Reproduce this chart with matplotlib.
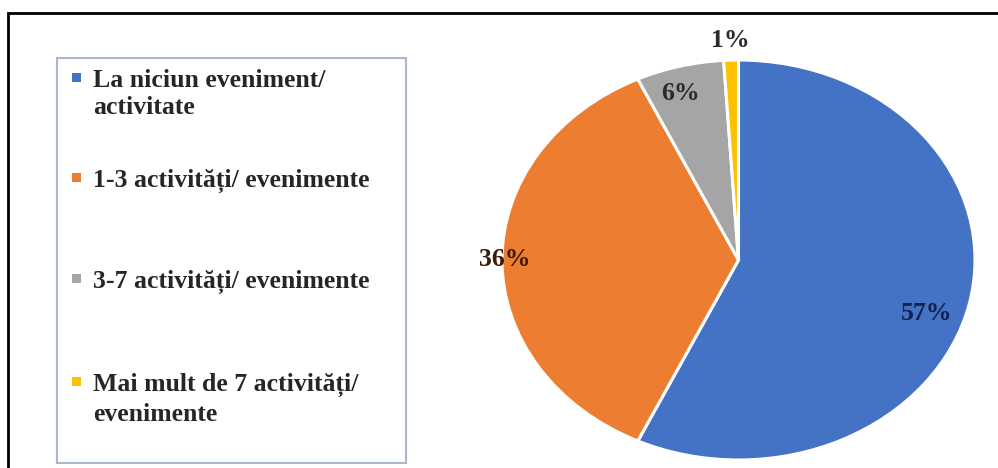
import matplotlib
matplotlib.use("Agg")
import matplotlib.pyplot as plt
from matplotlib.patches import Rectangle
import numpy as np

# ---- data ----
categories = ["La niciun eveniment/\nactivitate",
              "1-3 activități/ evenimente",
              "3-7 activități/ evenimente",
              "Mai mult de 7 activități/\nevenimente"]
values = [57, 36, 6, 1]
pct_labels = ["57%", "36%", "6%", "1%"]

# ---- style ----
colors = ["#4472C4", "#ED7D31", "#A5A5A5", "#FFC000"]
label_colors = ["#14224f", "#3d1c05", "#2b2b2b", "#2b2b2b"]
label_r = [0.84, 0.99, 0.87, 1.10]
label_dtheta = [-6.0, 0.0, 2.0, 0.0]

W, H = 998, 468
fig = plt.figure(figsize=(W / 100, H / 100), dpi=100)
fig.patch.set_facecolor("white")
serif = ["Liberation Serif", "DejaVu Serif"]

def fx(px):
    return px / W

def fy(py):
    return 1 - py / H

# outer frame (extends beyond right/bottom edges)
fig.patches.append(Rectangle((fx(8), fy(480)), fx(1010) - fx(8), fy(13) - fy(480),
                             transform=fig.transFigure, fill=False,
                             edgecolor="black", linewidth=2.0, zorder=5))

# legend box
fig.patches.append(Rectangle((fx(57), fy(463)), fx(406) - fx(57), fy(58) - fy(463),
                             transform=fig.transFigure, fill=False,
                             edgecolor="#a9b8cc", linewidth=1.5, zorder=5))

# legend entries: baselines of lines per entry
baselines = [[87, 114], [187], [288], [391, 421]]
for cat, col, bls in zip(categories, colors, baselines):
    lines = cat.split("\n")
    fig.patches.append(Rectangle((fx(72), fy(bls[0] - 5)), fx(9), 9 / H,
                                 transform=fig.transFigure, facecolor=col,
                                 edgecolor="none", zorder=6))
    for line, bl in zip(lines, bls):
        fig.text(fx(93), fy(bl), line, fontsize=18.5, fontweight="bold",
                 family=serif, color="#262626", ha="left", va="baseline")

# pie axes (elliptical)
ax = fig.add_axes([fx(502), fy(460), fx(975) - fx(502), fy(60) - fy(460)])
wedges, _ = ax.pie(values, colors=colors, startangle=90, counterclock=False,
                   radius=1.0,
                   wedgeprops=dict(edgecolor="white", linewidth=2.2))
ax.set_aspect("auto")
ax.set_xlim(-1, 1)
ax.set_ylim(-1, 1)
ax.axis("off")

for w, lab, lc, r, dt in zip(wedges, pct_labels, label_colors, label_r, label_dtheta):
    mid = np.deg2rad((w.theta1 + w.theta2) / 2 + dt)
    ax.text(r * np.cos(mid), r * np.sin(mid), lab, fontsize=18.5, fontweight="bold",
            family=serif, color=lc, ha="center", va="center", clip_on=False)

fig.savefig("out.png", dpi=100)
